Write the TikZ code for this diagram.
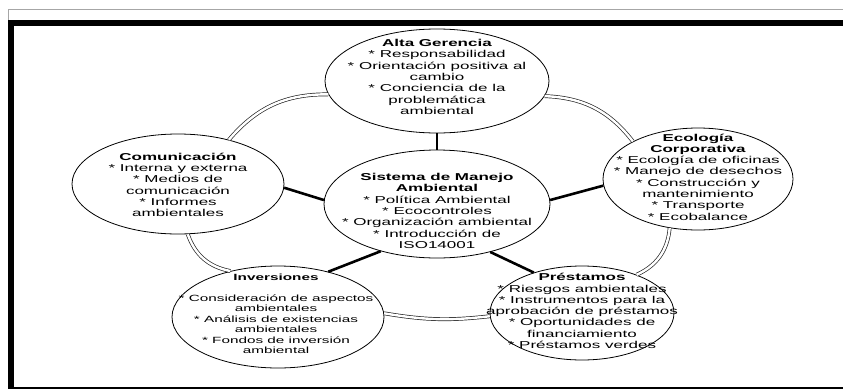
\documentclass[tikz,border=0pt]{standalone}
\usepackage{fontspec}
\setmainfont{Liberation Sans}[FakeStretch=1.7]
\usetikzlibrary{shapes.geometric}
\tikzset{
  oval/.style={ellipse, draw=black, line width=0.8pt, fill=white, inner sep=0pt},
  txt/.style={align=center, inner sep=0pt, font=\fontsize{10}{11.3}\selectfont},
  spoke/.style={line width=2.6pt, black},
  ring/.style={double=white, double distance=2.4pt, line width=0.7pt, draw=black!85},
}
\begin{document}
\begin{tikzpicture}[x=1pt,y=-1pt]
\useasboundingbox (0,0) rectangle (843,389);
% frame
\draw[gray!70, line width=1.3pt] (8.3,20) -- (8.3,9.6) -- (843,9.6);
\fill[black] (7.5,20) rectangle (843,26);
\fill[black] (7.5,20) rectangle (14,389);
\fill[black] (7.5,386.5) rectangle (843,389);
% ellipses
\node[oval, minimum width=224pt, minimum height=104pt] (alta) at (437,81) {};
\node[oval, minimum width=190pt, minimum height=102pt] (eco) at (698,179) {};
\node[oval, minimum width=212pt, minimum height=100pt] (com) at (178,184) {};
\node[oval, minimum width=226pt, minimum height=108pt] (sma) at (437,204) {};
\node[oval, minimum width=184pt, minimum height=94pt] (prest) at (582,313) {};
\node[oval, minimum width=212pt, minimum height=102pt] (inv) at (278,317) {};
% spokes
\draw[spoke] (sma.90) -- (alta.-90);
\draw[spoke] (sma.178) -- (com.-2);
\draw[spoke] (sma.2.5) -- (eco.184);
\draw[spoke] (sma.-140) -- (inv.42);
\draw[spoke] (sma.-42) -- (prest.140);
% ring arcs
\draw[ring] (alta.-8) to[bend left=25] (eco.150);
\draw[ring] (alta.187) to[bend right=25] (com.41);
\draw[ring] (com.-79) to[bend right=30] (inv.136);
\draw[ring] (inv.2) to[bend right=8] (prest.182);
\draw[ring] (prest.35) to[bend right=30] (eco.-120);
% texts
\node[txt] (talta) at (437,77) {\textbf{Alta Gerencia}\\* Responsabilidad\\* Orientación positiva al\\cambio\\* Conciencia de la\\problemática\\ambiental};
\node[txt] (teco) at (698,177) {\textbf{Ecología}\\\textbf{Corporativa}\\* Ecología de oficinas\\* Manejo de desechos\\* Construcción y\\mantenimiento\\* Transporte\\* Ecobalance};
\node[txt] (tcom) at (178,185) {\textbf{Comunicación}\\* Interna y externa\\* Medios de\\comunicación\\* Informes\\ambientales};
\node[txt] (tsma) at (437,211) {\textbf{Sistema de Manejo}\\\textbf{Ambiental}\\* Política Ambiental\\* Ecocontroles\\* Organización ambiental\\* Introducción de\\ISO14001};
\node[txt] (tprest) at (582,311) {\textbf{Préstamos}\\* Riesgos ambientales\\* Instrumentos para la\\aprobación de préstamos\\* Oportunidades de\\financiamiento\\* Préstamos verdes};
\node[txt, font=\fontsize{9}{10.5}\selectfont] (tinv) at (276,314) {\textbf{Inversiones}\\[10pt]* Consideración de aspectos\\ambientales\\* Análisis de existencias\\ambientales\\* Fondos de inversión\\ambiental};
\end{tikzpicture}
\end{document}
